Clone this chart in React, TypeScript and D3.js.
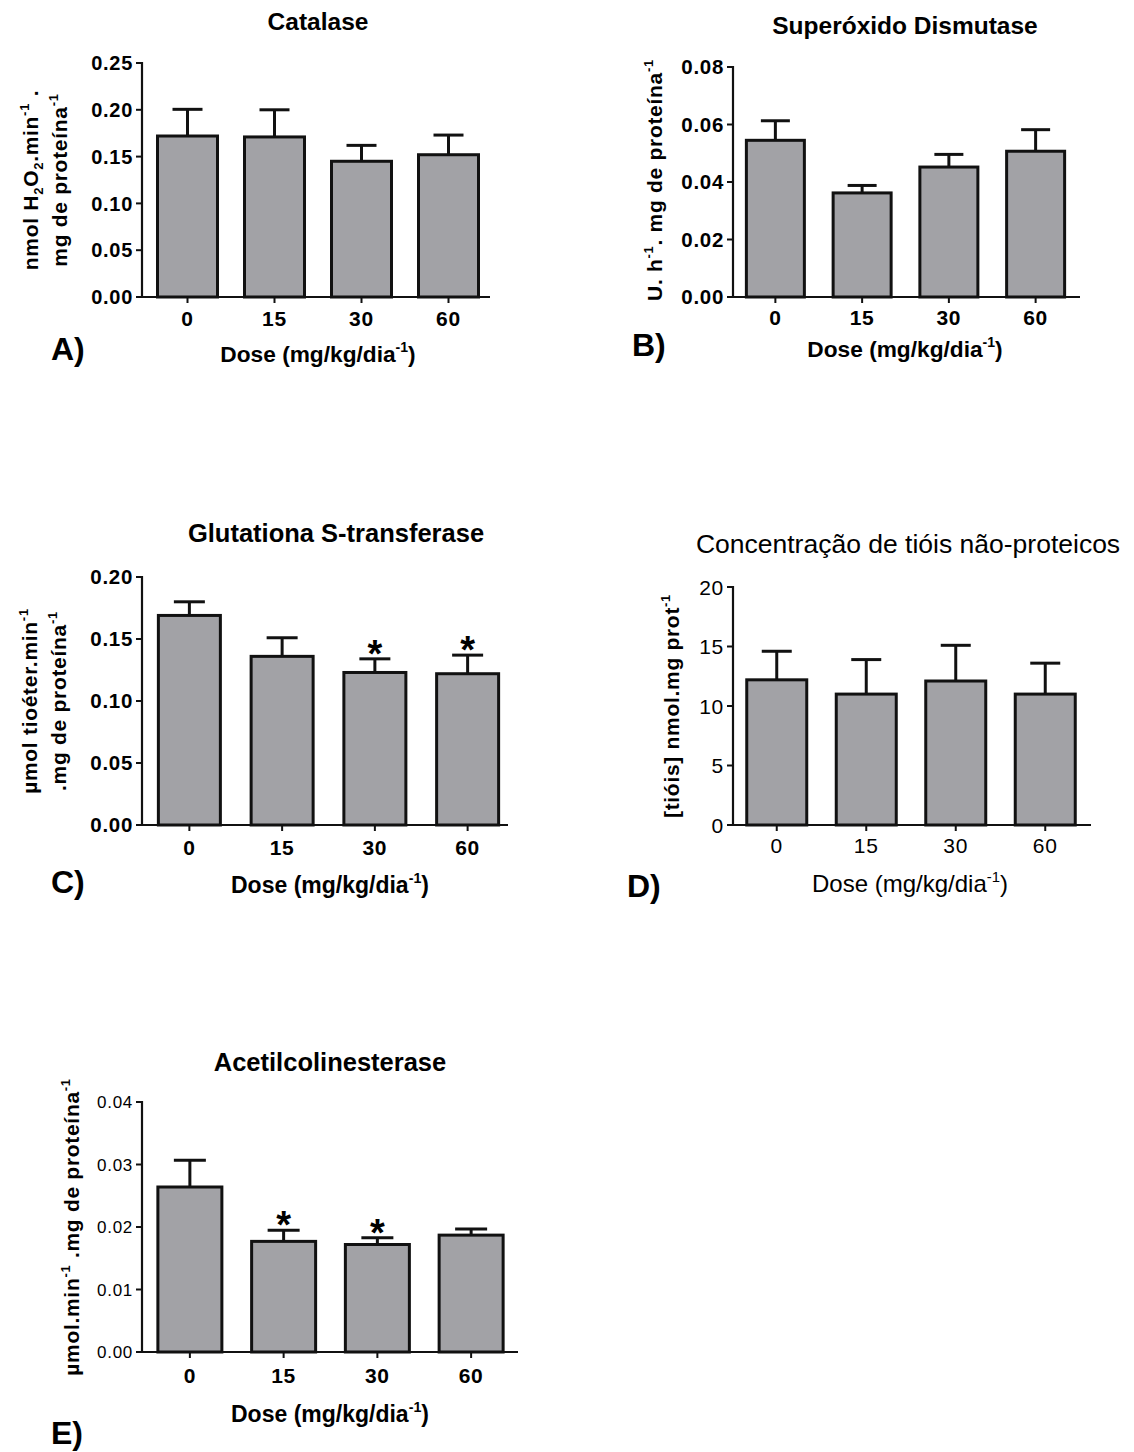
import React from "react";
import * as d3 from "d3";

// ---------- data ----------
const categories = ["0", "15", "30", "60"];

const catalaseMean = [0.172, 0.171, 0.145, 0.152];
const catalaseErr = [0.0285, 0.029, 0.017, 0.021];
const catalaseTicks = [0, 0.05, 0.1, 0.15, 0.2, 0.25];

const sodMean = [0.0545, 0.0362, 0.0452, 0.0507];
const sodErr = [0.0068, 0.0026, 0.0044, 0.0075];
const sodTicks = [0, 0.02, 0.04, 0.06, 0.08];

const gstMean = [0.169, 0.136, 0.123, 0.122];
const gstErr = [0.011, 0.015, 0.011, 0.015];
const gstStars = [false, false, true, true];
const gstTicks = [0, 0.05, 0.1, 0.15, 0.2];

const thiolMean = [12.2, 11.0, 12.1, 11.0];
const thiolErr = [2.4, 2.9, 3.0, 2.6];
const thiolTicks = [0, 5, 10, 15, 20];

const acheMean = [0.0264, 0.0177, 0.0172, 0.0187];
const acheErr = [0.0043, 0.0018, 0.0011, 0.001];
const acheStars = [false, true, true, false];
const acheTicks = [0, 0.01, 0.02, 0.03, 0.04];

const noStars = [false, false, false, false];

type Seg = { t: string; s?: "sup" | "sub" };

const xTitle: Seg[] = [{ t: "Dose (mg/kg/dia" }, { t: "-1", s: "sup" }, { t: ")" }];

const FONT = "'Liberation Sans', Arial, Helvetica, sans-serif";
const BAR_FILL = "#a2a2a6";

function Rich({ segs, fs }: { segs: Seg[]; fs: number }) {
  let cur = 0;
  return (
    <>
      {segs.map((sg, i) => {
        const target = sg.s === "sup" ? -0.42 * fs : sg.s === "sub" ? 0.25 * fs : 0;
        const dy = target - cur;
        cur = target;
        const size = sg.s ? fs * 0.62 : fs;
        return (
          <tspan key={i} dy={dy} fontSize={size}>
            {sg.t}
          </tspan>
        );
      })}
    </>
  );
}

interface PanelProps {
  title: string;
  titleX: number;
  titleY: number;
  titleSize: number;
  titleWeight: string;
  mean: number[];
  err: number[];
  stars: boolean[];
  ticks: number[];
  tickFmt: string;
  tickSize: number;
  tickWeight: string;
  xTickWeight: string;
  axisX: number;
  xEnd: number;
  bandStart: number;
  bandEnd: number;
  barW: number;
  yTop: number;
  yBottom: number;
  yLabel: { segs: Seg[]; x: number }[];
  yLabelCy: number;
  yLabelSize: number;
  xTickY: number;
  xTitleX: number;
  xTitleY: number;
  xTitleSize: number;
  xTitleWeight: string;
  letter: string;
  letterX: number;
  letterY: number;
}

function Panel(p: PanelProps) {
  const ymax = p.ticks[p.ticks.length - 1];
  const y = d3.scaleLinear().domain([0, ymax]).range([p.yBottom, p.yTop]);
  const step = (p.bandEnd - p.bandStart) / categories.length;
  const pad = 1 - p.barW / step;
  const x = d3
    .scaleBand<string>()
    .domain(categories)
    .range([p.bandStart, p.bandEnd])
    .paddingInner(pad)
    .paddingOuter(pad / 2);
  const bw = x.bandwidth();
  const fmt = d3.format(p.tickFmt);
  return (
    <g fontFamily={FONT}>
      <text
        x={p.titleX}
        y={p.titleY}
        textAnchor="middle"
        fontSize={p.titleSize}
        fontWeight={p.titleWeight}
      >
        {p.title}
      </text>
      {/* bars */}
      {categories.map((c, i) => {
        const x0 = x(c)!;
        const cx = x0 + bw / 2;
        const yv = y(p.mean[i]);
        const ye = y(p.mean[i] + p.err[i]);
        return (
          <g key={c}>
            <line x1={cx} x2={cx} y1={yv} y2={ye} stroke="#111" strokeWidth={3} />
            <line x1={cx - bw / 4} x2={cx + bw / 4} y1={ye} y2={ye} stroke="#111" strokeWidth={3} />
            <rect
              x={x0}
              y={yv}
              width={bw}
              height={p.yBottom - yv}
              fill={BAR_FILL}
              stroke="#111"
              strokeWidth={3}
            />
            {p.stars[i] && (
              <text x={cx} y={ye + 8} textAnchor="middle" fontSize={38} fontWeight="bold">
                *
              </text>
            )}
          </g>
        );
      })}
      {/* y axis */}
      <line x1={p.axisX} x2={p.axisX} y1={p.yTop - 1} y2={p.yBottom + 1} stroke="#111" strokeWidth={2.2} />
      {p.ticks.map((t) => (
        <g key={t}>
          <line x1={p.axisX - 6} x2={p.axisX} y1={y(t)} y2={y(t)} stroke="#111" strokeWidth={2} />
          <text
            x={p.axisX - 9}
            y={y(t)}
            dy="0.36em"
            textAnchor="end"
            fontSize={p.tickSize}
            fontWeight={p.tickWeight}
            letterSpacing={0.7}
          >
            {fmt(t)}
          </text>
        </g>
      ))}
      {/* x axis */}
      <line x1={p.axisX - 6} x2={p.xEnd} y1={p.yBottom} y2={p.yBottom} stroke="#111" strokeWidth={2.2} />
      {categories.map((c) => {
        const cx = x(c)! + bw / 2;
        return (
          <g key={c}>
            <line x1={cx} x2={cx} y1={p.yBottom} y2={p.yBottom + 6} stroke="#111" strokeWidth={2} />
            <text
              x={cx}
              y={p.xTickY}
              textAnchor="middle"
              fontSize={21}
              fontWeight={p.xTickWeight}
              letterSpacing={0.7}
            >
              {c}
            </text>
          </g>
        );
      })}
      <text
        x={p.xTitleX}
        y={p.xTitleY}
        textAnchor="middle"
        fontSize={p.xTitleSize}
        fontWeight={p.xTitleWeight}
      >
        <Rich segs={xTitle} fs={p.xTitleSize} />
      </text>
      {/* y label */}
      {p.yLabel.map((ln, i) => (
        <text
          key={i}
          transform={`translate(${ln.x},${p.yLabelCy}) rotate(-90)`}
          textAnchor="middle"
          fontSize={p.yLabelSize}
          fontWeight="bold"
          letterSpacing={0.7}
        >
          <Rich segs={ln.segs} fs={p.yLabelSize} />
        </text>
      ))}
      <text x={p.letterX} y={p.letterY} fontSize={32} fontWeight="bold">
        {p.letter}
      </text>
    </g>
  );
}

export default function App() {
  return (
    <svg width={1134} height={1452} style={{ display: "block", position: "absolute", left: 0, top: 0 }}>
      <rect x={0} y={0} width={1134} height={1452} fill="#fff" />
      <Panel
        title="Catalase"
        titleX={318}
        titleY={30}
        titleSize={24.5}
        titleWeight="bold"
        mean={catalaseMean}
        err={catalaseErr}
        stars={noStars}
        ticks={catalaseTicks}
        tickFmt=".2f"
        tickSize={20}
        tickWeight="bold"
        xTickWeight="bold"
        axisX={142}
        xEnd={490}
        bandStart={144}
        bandEnd={492}
        barW={60}
        yTop={63}
        yBottom={297}
        yLabel={[
          {
            x: 38,
            segs: [
              { t: "nmol H" },
              { t: "2", s: "sub" },
              { t: "O" },
              { t: "2", s: "sub" },
              { t: ".min" },
              { t: "-1", s: "sup" },
              { t: " ." },
            ],
          },
          { x: 67, segs: [{ t: "mg de proteína" }, { t: "-1", s: "sup" }] },
        ]}
        yLabelCy={180}
        yLabelSize={21}
        xTickY={326}
        xTitleX={318}
        xTitleY={362}
        xTitleSize={22.7}
        xTitleWeight="bold"
        letter="A)"
        letterX={51}
        letterY={360}
      />
      <Panel
        title="Superóxido Dismutase"
        titleX={905}
        titleY={34}
        titleSize={24.5}
        titleWeight="bold"
        mean={sodMean}
        err={sodErr}
        stars={noStars}
        ticks={sodTicks}
        tickFmt=".2f"
        tickSize={20.5}
        tickWeight="bold"
        xTickWeight="bold"
        axisX={733}
        xEnd={1080}
        bandStart={732}
        bandEnd={1079}
        barW={58}
        yTop={67}
        yBottom={297}
        yLabel={[{ x: 662, segs: [{ t: "U. h" }, { t: "-1", s: "sup" }, { t: ". mg de proteína" }, { t: "-1", s: "sup" }] }]}
        yLabelCy={180}
        yLabelSize={21}
        xTickY={325}
        xTitleX={905}
        xTitleY={357}
        xTitleSize={22.7}
        xTitleWeight="bold"
        letter="B)"
        letterX={632}
        letterY={356}
      />
      <Panel
        title="Glutationa S-transferase"
        titleX={336}
        titleY={542}
        titleSize={25.5}
        titleWeight="bold"
        mean={gstMean}
        err={gstErr}
        stars={gstStars}
        ticks={gstTicks}
        tickFmt=".2f"
        tickSize={20.5}
        tickWeight="bold"
        xTickWeight="bold"
        axisX={142}
        xEnd={508}
        bandStart={143}
        bandEnd={514}
        barW={62}
        yTop={577}
        yBottom={825}
        yLabel={[
          { x: 37, segs: [{ t: "µmol tioéter.min" }, { t: "-1", s: "sup" }] },
          { x: 66, segs: [{ t: ".mg de proteína" }, { t: "-1", s: "sup" }] },
        ]}
        yLabelCy={701}
        yLabelSize={21}
        xTickY={855}
        xTitleX={330}
        xTitleY={893}
        xTitleSize={23}
        xTitleWeight="bold"
        letter="C)"
        letterX={51}
        letterY={893}
      />
      <Panel
        title="Concentração de tióis não-proteicos"
        titleX={908}
        titleY={553}
        titleSize={26.5}
        titleWeight="normal"
        mean={thiolMean}
        err={thiolErr}
        stars={noStars}
        ticks={thiolTicks}
        tickFmt="d"
        tickSize={21}
        tickWeight="normal"
        xTickWeight="normal"
        axisX={733}
        xEnd={1091}
        bandStart={732}
        bandEnd={1090}
        barW={60}
        yTop={587}
        yBottom={825}
        yLabel={[{ x: 679, segs: [{ t: "[tióis] nmol.mg prot" }, { t: "-1", s: "sup" }] }]}
        yLabelCy={706}
        yLabelSize={21}
        xTickY={853}
        xTitleX={910}
        xTitleY={892}
        xTitleSize={24}
        xTitleWeight="normal"
        letter="D)"
        letterX={627}
        letterY={897}
      />
      <Panel
        title="Acetilcolinesterase"
        titleX={330}
        titleY={1071}
        titleSize={25.5}
        titleWeight="bold"
        mean={acheMean}
        err={acheErr}
        stars={acheStars}
        ticks={acheTicks}
        tickFmt=".2f"
        tickSize={17}
        tickWeight="normal"
        xTickWeight="bold"
        axisX={142}
        xEnd={518}
        bandStart={143}
        bandEnd={518}
        barW={64}
        yTop={1102}
        yBottom={1352}
        yLabel={[
          {
            x: 79,
            segs: [{ t: "µmol.min" }, { t: "-1", s: "sup" }, { t: " .mg de proteína" }, { t: "-1", s: "sup" }],
          },
        ]}
        yLabelCy={1227}
        yLabelSize={21}
        xTickY={1383}
        xTitleX={330}
        xTitleY={1422}
        xTitleSize={23}
        xTitleWeight="bold"
        letter="E)"
        letterX={51}
        letterY={1444}
      />
    </svg>
  );
}
